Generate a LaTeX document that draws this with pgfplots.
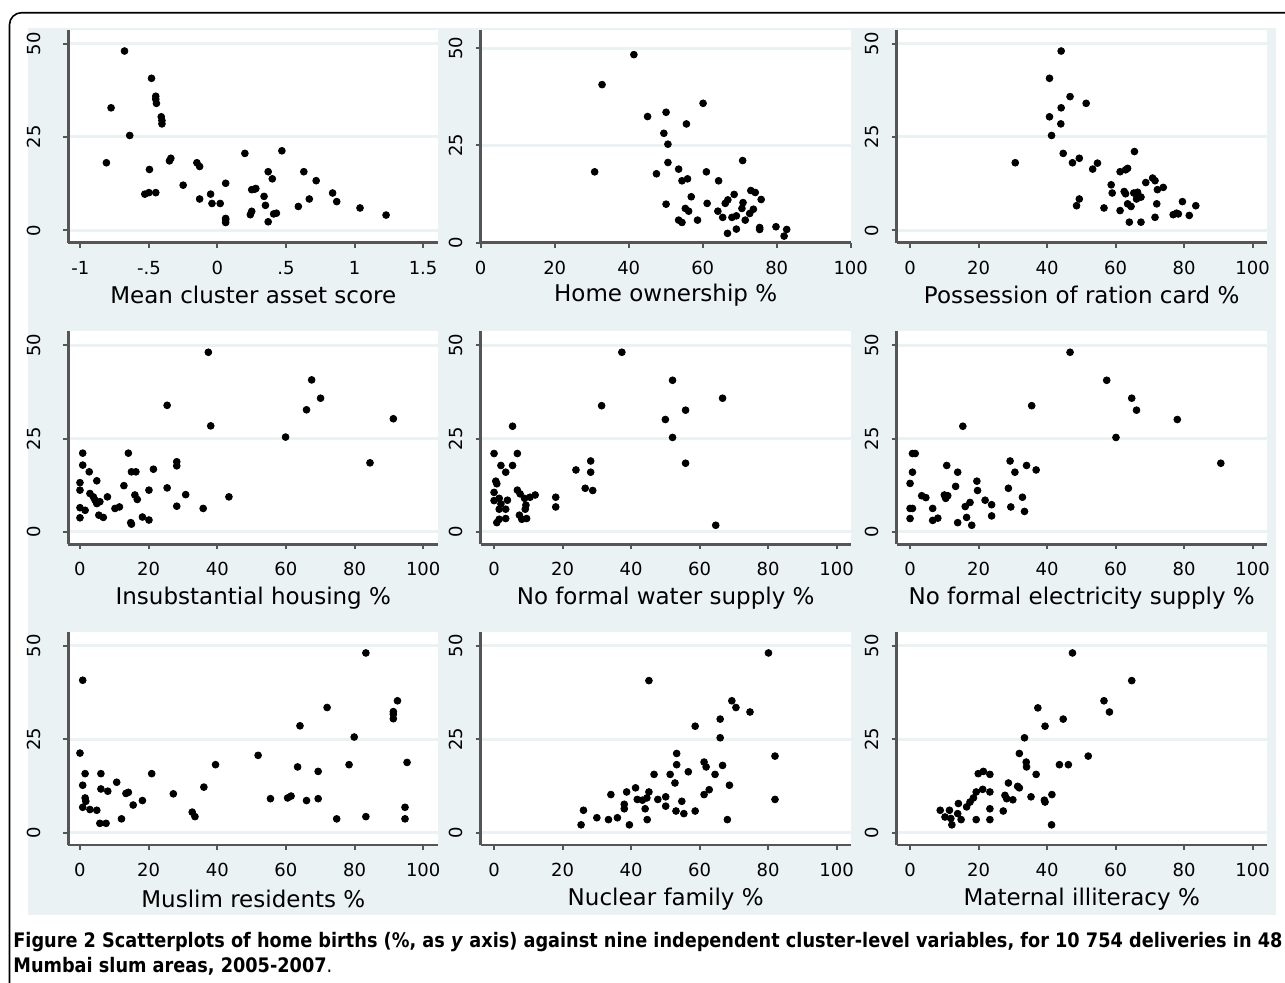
\documentclass[border=0pt]{standalone}
\usepackage{fontspec}
\setmainfont{DejaVu Sans}
\newfontfamily\capfont[FakeStretch=0.885]{DejaVu Sans}
\usepackage{pgfplots}
\pgfplotsset{compat=1.18}

\definecolor{bgc}{RGB}{234,242,243}
\definecolor{gridc}{RGB}{234,242,243}
\definecolor{axc}{RGB}{85,85,85}

% 1 px of the reference = 0.5pt
\pgfplotsset{
  panel/.style={
    scale only axis, width=185pt, height=106.5pt, anchor=south west,
    axis background/.style={fill=white},
    axis x line*=bottom, axis y line*=left,
    axis line style={-, line width=1.25pt, color=axc},
    tick align=outside, major tick length=2.5pt,
    every tick/.style={line width=1pt, color=axc},
    ymajorgrids, grid style={line width=1.5pt, color=gridc},
    ytick={0,25,50}, yticklabels={0,25,50},
    xtick={0,20,40,60,80,100}, xticklabels={0,20,40,60,80,100},
    xmin=-3.9, xmax=104.1, ymin=-3.3, ymax=53.7,
    tick label style={font=\fontsize{9pt}{10pt}\selectfont},
    yticklabel style={rotate=90, anchor=center},
    xticklabel style={anchor=center},
    yticklabel shift=10pt, xticklabel shift=10pt,
    every axis x label/.style={at={(axis description cs:0.5,0)}, anchor=center, yshift=-27pt},
    label style={font=\fontsize{11.5pt}{13pt}\selectfont},
    clip=false,
  },
  dots/.style={only marks, mark=*, mark size=1.7pt, black},
}

\begin{document}
\begin{tikzpicture}
\fill[bgc] (14pt,-14pt) rectangle (638pt,-457.5pt);
\draw[line width=0.8pt, rounded corners=6pt] (4.75pt,-500pt) -- (4.75pt,-6.35pt) -- (700pt,-6.35pt);

% row 1
\begin{axis}[panel, at={(34.15pt,-121.35pt)}, xmin=-1.088, xmax=1.611,
  xtick={-1,-0.5,0,0.5,1,1.5}, xticklabels={-1,-.5,0,.5,1,1.5},
  yticklabel shift=14.5pt, every axis x label/.append style={yshift=1pt},
  xlabel={Mean cluster asset score}]
\addplot[dots] coordinates {
(-0.678,48.0) (-0.481,40.7) (-0.45,35.9) (-0.45,35.1) (-0.445,34.0) (-0.41,30.4)
(-0.405,29.4) (-0.405,28.5) (-0.776,32.8) (-0.64,25.4) (-0.81,18.1) (-0.496,16.3)
(-0.53,9.7) (-0.50,10.1) (-0.45,10.1) (-0.35,18.6) (-0.34,19.3) (-0.25,12.1)
(-0.15,18.1) (-0.13,17.1) (-0.13,8.4) (-0.05,9.7) (-0.04,7.2) (0.02,7.2)
(0.06,12.6) (0.06,3.2) (0.06,2.1) (0.06,2.8) (0.20,20.6) (0.25,10.9) (0.27,11.0)
(0.28,11.2) (0.24,4.2) (0.25,5.1) (0.34,9.1) (0.35,6.7) (0.37,15.7) (0.40,13.8)
(0.37,2.3) (0.41,4.4) (0.43,4.6) (0.47,21.3) (0.59,6.4) (0.63,15.7) (0.67,8.4)
(0.72,13.3) (0.84,10.0) (0.87,7.7) (1.04,6.0) (1.23,4.1)
};
\end{axis}

\begin{axis}[panel, at={(240.35pt,-121.35pt)}, xmin=0, xmax=100, ymin=0, ymax=54.7,
  every axis x label/.append style={yshift=1pt},
  xlabel={Home ownership \%}]
\addplot[dots] coordinates {
(41.4,48.3) (32.8,40.6) (60.1,35.8) (45.1,32.4) (50.1,33.5) (55.6,30.5) (49.5,28.1)
(50.6,25.3) (30.8,18.2) (50.6,20.6) (47.5,17.7) (53.5,18.9) (54.4,15.9) (55.9,16.4)
(61.0,18.2) (64.3,15.9) (70.8,21.1) (50.1,9.9) (56.9,11.8) (55.3,8.8) (56.2,8.1)
(61.2,10.1) (53.5,5.8) (54.4,5.2) (58.6,5.8) (64.1,8.1) (65.4,6.5) (66.1,10.1)
(66.8,11.0) (68.5,12.4) (67.9,6.5) (69.1,6.9) (66.7,2.4) (69.1,3.5) (70.9,10.3)
(70.6,8.8) (71.5,5.8) (73.0,13.4) (74.2,12.9) (72.7,7.5) (73.7,8.6) (75.8,11.1)
(75.4,3.9) (75.4,3.4) (79.8,4.1) (82.7,3.4) (82.0,1.7)
};
\end{axis}

\begin{axis}[panel, at={(448.35pt,-121.35pt)},
  every axis x label/.append style={yshift=1pt},
  xlabel={Possession of ration card \%}]
\addplot[dots] coordinates {
(44.1,48.0) (40.7,40.7) (46.7,35.8) (51.4,34.0) (44.1,32.8) (40.7,30.4) (44.0,28.5)
(41.3,25.4) (44.7,20.6) (30.7,18.1) (47.4,18.1) (49.4,19.3) (53.3,16.4) (54.7,18.0)
(65.5,21.1) (61.3,15.7) (62.9,16.2) (63.5,16.6) (58.7,12.2) (59.0,10.0) (62.5,10.4)
(62.9,9.8) (65.3,10.0) (66.4,10.2) (66.8,9.1) (67.4,8.9) (66.1,8.4) (63.5,7.1)
(64.5,6.4) (61.3,5.3) (56.6,6.0) (48.6,6.6) (49.4,8.4) (68.8,12.8) (70.8,14.0)
(71.5,13.3) (72.2,10.9) (73.9,11.5) (72.0,7.1) (71.5,3.5) (64.0,2.2) (67.4,2.2)
(76.8,4.2) (77.8,4.6) (78.3,4.4) (79.5,7.7) (81.5,4.0) (83.4,6.6)
};
\end{axis}

% row 2
\begin{axis}[panel, at={(34.15pt,-272.15pt)}, xmin=-3.4, xmax=104.4,
  yticklabel shift=14.5pt,
  xlabel={Insubstantial housing \%}]
\addplot[dots] coordinates {
(37.4,48.1) (67.5,40.7) (70.1,35.8) (66.0,32.7) (25.4,33.9) (38.1,28.4) (91.3,30.3)
(59.9,25.4) (84.5,18.5) (0.8,21.1) (14.1,21.1) (0.8,17.9) (2.7,16.1) (4.9,13.7)
(0,13.2) (0,11.2) (2.9,10.3) (3.9,9.4) (4.4,8.5) (4.9,7.6) (5.8,8.1) (8.0,9.4)
(0,6.5) (1.5,5.8) (0,3.8) (5.5,4.5) (6.8,3.9) (10.2,6.3) (11.5,6.7) (12.8,12.4)
(15.0,16.1) (16.3,16.1) (16.0,9.9) (16.7,8.7) (14.8,2.5) (15.0,2.1) (18.2,4.0)
(20.1,3.2) (20.1,11.2) (21.4,16.8) (25.4,11.8) (28.2,18.8) (28.2,17.7) (28.2,6.9)
(30.8,10.0) (35.9,6.3) (43.4,9.4)
};
\end{axis}

\begin{axis}[panel, at={(240.35pt,-272.15pt)},
  xlabel={No formal water supply \%}]
\addplot[dots] coordinates {
(37.3,48.1) (52.1,40.6) (66.7,35.8) (55.9,32.6) (31.4,33.8) (50.0,30.1) (5.4,28.3)
(52.1,25.3) (55.9,18.4) (64.7,1.8) (0,21.0) (6.8,21.0) (2.0,17.8) (5.4,17.8)
(3.4,16.0) (23.9,16.6) (28.2,19.0) (28.2,16.0) (26.6,11.7) (28.8,11.1) (0.5,13.6)
(0.8,12.9) (0,10.6) (0,8.4) (1.5,9.0) (2.0,7.5) (3.9,8.5) (1.5,6.1) (3.4,6.1)
(0.8,2.5) (1.5,3.4) (3.4,3.6) (6.8,11.2) (7.6,10.2) (8.9,9.0) (10.5,9.3) (12.0,9.9)
(9.3,7.2) (9.1,6.1) (7.4,4.5) (8.1,3.4) (9.5,3.6) (18.0,9.3) (18.0,6.7)
};
\end{axis}

\begin{axis}[panel, at={(448.35pt,-272.15pt)},
  xlabel={No formal electricity supply \%}]
\addplot[dots] coordinates {
(46.7,48.1) (57.4,40.6) (64.7,35.8) (66.1,32.6) (35.5,33.8) (78.0,30.1) (15.4,28.3)
(60.1,25.3) (90.7,18.4) (0.7,21.0) (1.5,21.0) (0.7,16.0) (0,13.0) (0.7,6.3) (0,6.3)
(0,3.6) (3.4,9.7) (4.6,9.2) (6.6,6.3) (6.6,3.1) (8.1,3.7) (10.0,9.9) (10.4,9.0)
(11.0,9.7) (10.7,17.8) (13.9,16.0) (13.3,12.2) (13.9,2.5) (16.5,3.9) (18.0,1.8)
(16.1,6.8) (17.5,7.9) (19.5,13.6) (19.7,11.1) (21.9,8.5) (23.8,7.3) (23.8,4.3)
(29.2,19.0) (30.6,16.0) (34.0,17.8) (36.8,16.6) (28.7,11.7) (29.4,6.7) (32.8,9.3)
(33.4,5.5)
};
\end{axis}

% row 3
\begin{axis}[panel, at={(34.15pt,-422.5pt)}, xmin=-3.4, xmax=104.4,
  yticklabel shift=14.5pt,
  xlabel={Muslim residents \%}]
\addplot[dots] coordinates {
(83.3,48.1) (0.8,40.8) (92.5,35.3) (72.0,33.5) (91.3,32.4) (91.3,31.7) (91.3,30.5)
(64.1,28.6) (79.9,25.6) (0,21.3) (51.9,20.7) (78.4,18.2) (95.3,18.8) (63.4,17.6)
(69.4,16.4) (39.5,18.2) (20.9,15.8) (1.5,15.8) (6.1,15.8) (10.7,13.5) (0.8,12.7)
(6.1,11.7) (8.1,11.1) (13.4,10.5) (14.1,10.8) (36.1,12.2) (27.2,10.4) (1.5,9.3)
(1.7,8.4) (15.5,7.4) (18.2,8.6) (0.8,6.8) (2.9,6.2) (4.9,6.0) (5.8,2.5) (7.6,2.5)
(12.1,3.7) (32.7,5.5) (33.5,4.3) (55.5,9.1) (60.5,9.3) (61.5,9.8) (66.0,8.6)
(69.4,9.1) (74.8,3.7) (83.3,4.3) (94.7,6.8) (94.7,3.7)
};
\end{axis}

\begin{axis}[panel, at={(240.35pt,-422.5pt)},
  xlabel={Nuclear family \%}]
\addplot[dots] coordinates {
(80.1,48.1) (45.2,40.7) (69.4,35.3) (70.6,33.5) (74.7,32.3) (66.0,30.4) (58.7,28.5)
(66.0,25.4) (82.0,20.5) (82.0,8.9) (53.3,21.2) (53.3,18.2) (61.3,18.9) (61.9,17.6)
(66.7,18.0) (64.5,15.6) (46.7,15.6) (51.4,15.6) (56.7,16.3) (52.8,13.3) (68.7,12.7)
(62.8,11.5) (61.3,10.2) (45.2,10.9) (41.3,12.0) (38.7,10.9) (34.1,10.2) (41.8,8.9)
(43.3,8.7) (44.6,9.3) (47.8,8.9) (50.1,9.6) (50.1,7.1) (54.8,8.4) (38.0,7.6)
(38.0,6.4) (44.1,6.4) (53.1,5.8) (55.4,5.1) (58.7,5.8) (44.7,3.5) (39.5,2.1)
(36.0,4.0) (33.4,3.5) (30.0,4.0) (26.1,6.0) (25.4,2.1) (68.1,3.5)
};
\end{axis}

\begin{axis}[panel, at={(448.35pt,-422.5pt)},
  xlabel={Maternal illiteracy \%}]
\addplot[dots] coordinates {
(47.4,48.1) (64.7,40.7) (56.6,35.3) (58.2,32.3) (37.3,33.4) (44.7,30.4) (39.4,28.5)
(33.4,25.4) (52.0,20.5) (31.9,21.2) (43.6,18.2) (46.2,18.2) (33.9,18.9) (34.0,17.6)
(36.8,15.6) (19.9,15.8) (21.4,16.4) (23.3,15.6) (28.7,13.3) (31.4,12.4) (31.9,12.0)
(19.3,10.9) (21.2,11.6) (23.3,10.9) (27.7,10.0) (28.2,9.1) (30.0,8.8) (35.3,9.6)
(39.2,8.7) (39.4,8.2) (41.4,10.2) (27.2,5.8) (23.3,6.4) (23.3,3.5) (19.3,3.5)
(41.3,2.1) (18.5,9.3) (17.5,8.2) (16.5,6.9) (14.1,7.8) (8.8,6.0) (11.5,6.0)
(10.2,4.2) (11.9,3.8) (13.9,5.1) (14.9,3.5) (12.2,2.1)
};
\end{axis}

% caption
\node[anchor=base west, inner sep=0pt, font=\capfont\bfseries\fontsize{10pt}{12pt}\selectfont]
  at (6.5pt,-473.5pt) {Figure 2 Scatterplots of home births (\%, as \textit{y} axis) against nine independent cluster-level variables, for 10 754 deliveries in 48};
\node[anchor=base west, inner sep=0pt, font=\capfont\fontsize{10pt}{12pt}\selectfont]
  at (6.5pt,-486pt) {\textbf{Mumbai slum areas, 2005-2007}.};

\pgfresetboundingbox
\path (0pt,0pt) rectangle (642.5pt,-491pt);
\end{tikzpicture}
\end{document}
